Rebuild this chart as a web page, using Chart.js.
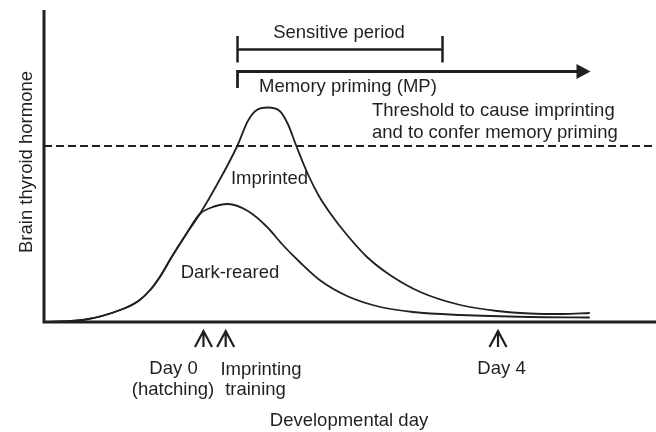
<!DOCTYPE html>
<html>
<head>
<meta charset="utf-8">
<script src="https://cdn.jsdelivr.net/npm/chart.js@4.4.1/dist/chart.umd.min.js"></script>
<style>
  html, body { margin: 0; padding: 0; background: #ffffff; }
  canvas { display: block; }
</style>
</head>
<body>
<canvas id="c" width="656" height="432"></canvas>
<script>
// ---- data (x = developmental day, y = relative brain thyroid hormone level) ----
const darkDays   = [-2.14, -1.61, -1.07, -0.86, -0.70, -0.57, -0.41, -0.23, -0.03, 0.11, 0.35, 0.62, 0.88, 1.08, 1.32, 1.59, 1.96, 2.41, 2.85, 3.49, 4.43, 5.24];
const darkLevel  = [0, 2, 13, 21, 32, 45, 65, 86, 108, 114, 118, 111, 95, 78, 60, 42, 26, 15, 10, 7, 5, 4.5];
const imprDays   = [-2.14, -1.61, -1.07, -0.86, -0.70, -0.57, -0.41, -0.23, -0.03, 0.20, 0.47, 0.62, 0.74, 0.89, 1.05, 1.16, 1.28, 1.43, 1.58, 1.74, 1.96, 2.23, 2.54, 2.95, 3.49, 3.99, 4.43, 4.88, 5.24];
const imprLevel  = [0, 2, 13, 21, 32, 45, 65, 86, 108, 137, 175, 201, 212, 214.5, 211, 198, 175, 148, 126, 108, 87, 65, 47, 30, 17, 11, 8.5, 8, 9];
const threshold  = 176;
const xRange     = [-2.135, 6.135];
const yRange     = [0, 312];
const sensitivePeriod = [0.48, 3.25];
const memoryPriming   = [0.48, 5.25];
const markerDays      = [0.02, 0.32, 4.0];

const FONT = '18.5px "Liberation Sans", Arial, sans-serif';
const INK = '#231f20';

const toPts = (xs, ys) => xs.map((x, i) => ({ x: x, y: ys[i] }));

const annotations = {
  id: 'annotations',
  afterDraw(chart) {
    const ctx = chart.ctx;
    const xs = chart.scales.x;
    const a = chart.chartArea;
    ctx.save();
    ctx.strokeStyle = INK;
    ctx.fillStyle = INK;
    ctx.lineCap = 'butt';

    // axes
    ctx.lineWidth = 3;
    ctx.beginPath();
    ctx.moveTo(a.left, a.top);
    ctx.lineTo(a.left, a.bottom + 1.5);
    ctx.moveTo(a.left - 1.5, a.bottom);
    ctx.lineTo(a.right, a.bottom);
    ctx.stroke();

    // sensitive period bracket
    const s0 = xs.getPixelForValue(sensitivePeriod[0]);
    const s1 = xs.getPixelForValue(sensitivePeriod[1]);
    ctx.lineWidth = 2.5;
    ctx.beginPath();
    ctx.moveTo(s0, 36); ctx.lineTo(s0, 62.5);
    ctx.moveTo(s1, 36); ctx.lineTo(s1, 62.5);
    ctx.moveTo(s0, 49.5); ctx.lineTo(s1, 49.5);
    ctx.stroke();

    // memory priming arrow
    const m0 = xs.getPixelForValue(memoryPriming[0]);
    const m1 = xs.getPixelForValue(memoryPriming[1]);
    ctx.lineWidth = 2.8;
    ctx.beginPath();
    ctx.moveTo(m0, 88); ctx.lineTo(m0, 71.5);
    ctx.lineTo(m1 - 13, 71.5);
    ctx.stroke();
    ctx.beginPath();
    ctx.moveTo(m1 - 14, 64);
    ctx.lineTo(m1, 71.5);
    ctx.lineTo(m1 - 14, 79);
    ctx.closePath();
    ctx.fill();

    // marker arrows under axis
    ctx.lineWidth = 2.2;
    markerDays.forEach(d => {
      const cx = xs.getPixelForValue(d);
      ctx.beginPath();
      ctx.moveTo(cx - 8.5, 347);
      ctx.lineTo(cx, 331);
      ctx.lineTo(cx + 8.5, 347);
      ctx.moveTo(cx, 331);
      ctx.lineTo(cx, 347);
      ctx.stroke();
    });

    // texts
    ctx.font = FONT;
    ctx.textBaseline = 'alphabetic';
    const t = (txt, x, y, align) => { ctx.textAlign = align; ctx.fillText(txt, x, y); };
    t('Sensitive period', 339, 38, 'center');
    t('Memory priming (MP)', 259, 92, 'left');
    t('Threshold to cause imprinting', 372, 116, 'left');
    t('and to confer memory priming', 372, 138, 'left');
    t('Imprinted', 269.5, 184, 'center');
    t('Dark-reared', 230, 278, 'center');
    t('Day 0', 173.5, 374, 'center');
    t('(hatching)', 173, 395, 'center');
    t('Imprinting', 261, 375, 'center');
    t('training', 255.5, 395, 'center');
    t('Day 4', 501.5, 374, 'center');
    t('Developmental day', 349, 425.5, 'center');

    ctx.save();
    ctx.translate(32, 162);
    ctx.rotate(-Math.PI / 2);
    ctx.textAlign = 'center';
    ctx.fillText('Brain thyroid hormone', 0, 0);
    ctx.restore();

    ctx.restore();
  }
};

new Chart(document.getElementById('c'), {
  type: 'scatter',
  data: {
    datasets: [
      {
        label: 'Dark-reared',
        data: toPts(darkDays, darkLevel),
        showLine: true,
        borderColor: INK,
        borderWidth: 1.8,
        pointRadius: 0,
        cubicInterpolationMode: 'monotone',
        fill: false
      },
      {
        label: 'Imprinted',
        data: toPts(imprDays, imprLevel),
        showLine: true,
        borderColor: INK,
        borderWidth: 1.8,
        pointRadius: 0,
        cubicInterpolationMode: 'monotone',
        fill: false
      },
      {
        label: 'Threshold',
        data: [{ x: xRange[0], y: threshold }, { x: xRange[1], y: threshold }],
        showLine: true,
        borderColor: INK,
        borderWidth: 2,
        borderDash: [8, 4],
        pointRadius: 0,
        fill: false
      }
    ]
  },
  options: {
    responsive: false,
    animation: false,
    layout: { padding: { left: 44, top: 10, right: 0, bottom: 110 } },
    plugins: { legend: { display: false }, tooltip: { enabled: false } },
    scales: {
      x: { type: 'linear', display: false, min: xRange[0], max: xRange[1] },
      y: { type: 'linear', display: false, min: yRange[0], max: yRange[1] }
    }
  },
  plugins: [annotations]
});
</script>
</body>
</html>
